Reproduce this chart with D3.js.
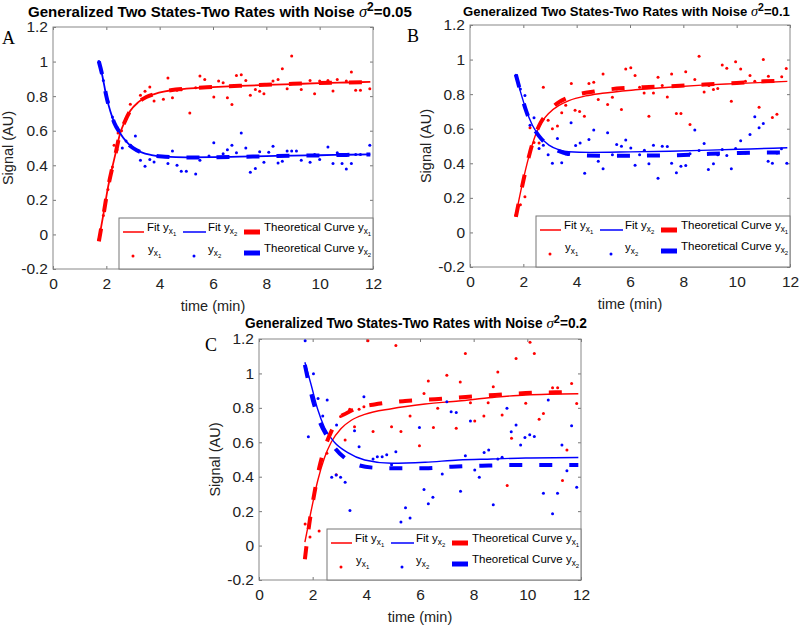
<!DOCTYPE html>
<html><head><meta charset="utf-8">
<script src="https://cdn.jsdelivr.net/npm/d3@7"></script>
<style>
body{margin:0;background:#fff;}
svg{display:block;font-family:"Liberation Sans",Arial,Helvetica,sans-serif;}
</style>
</head><body>
<svg id="chart" width="800" height="627"></svg>
<script>
// ---------------- DATA ----------------
const xTicks = [0, 2, 4, 6, 8, 10, 12];
const xTickLabels = ["0", "2", "4", "6", "8", "10", "12"];
const yTicks = [-0.2, 0, 0.2, 0.4, 0.6, 0.8, 1, 1.2];
const yTickLabels = ["-0.2", "0", "0.2", "0.4", "0.6", "0.8", "1", "1.2"];
const panelLetters = ["A", "B", "C"];
const noiseLevels = ["0.05", "0.1", "0.2"];
const titleText = "Generalized Two States-Two Rates with Noise ";
const xLabel = "time (min)";
const yLabel = "Signal (AU)";

// Panel A (sigma^2 = 0.05)
const redTheoryA = [[1.72,-0.04],[1.9,0.12],[2.05,0.26],[2.2,0.37],[2.35,0.47],[2.5,0.575],[2.7,0.655],[2.9,0.715],[3.2,0.765],[3.5,0.795],[3.8,0.812],[4.2,0.828],[4.6,0.838],[5,0.844],[6,0.853],[7,0.86],[8,0.866],[9,0.871],[10,0.876],[11,0.879],[11.9,0.882]];
const redFitA = [[1.72,-0.03],[1.9,0.125],[2.05,0.262],[2.2,0.372],[2.35,0.472],[2.5,0.575],[2.7,0.656],[2.9,0.715],[3.2,0.765],[3.5,0.795],[3.8,0.812],[4.2,0.827],[4.6,0.837],[5,0.843],[6,0.852],[7,0.859],[8,0.865],[9,0.87],[10,0.875],[11,0.879],[11.9,0.882]];
const blueTheoryA = [[1.72,1.0],[1.85,0.92],[2.0,0.80],[2.15,0.71],[2.3,0.645],[2.5,0.59],[2.75,0.535],[3.0,0.50],[3.3,0.475],[3.7,0.458],[4.2,0.45],[5,0.445],[6,0.446],[7,0.449],[8,0.452],[9,0.455],[10,0.457],[11,0.46],[11.9,0.462]];
const blueFitA = [[1.72,1.0],[1.85,0.918],[2.0,0.80],[2.15,0.712],[2.3,0.646],[2.5,0.59],[2.75,0.537],[3.0,0.502],[3.3,0.476],[3.7,0.459],[4.2,0.45],[5,0.446],[6,0.447],[7,0.45],[8,0.453],[9,0.456],[10,0.458],[11,0.461],[11.9,0.463]];
const redDotsA = [[1.72,-0.03],[1.89,0.11],[2.06,0.26],[2.23,0.39],[2.29,0.516],[2.40,0.49],[2.44,0.587],[2.57,0.6],[2.74,0.67],[2.9,0.753],[3.28,0.805],[3.45,0.828],[3.63,0.853],[3.79,0.772],[4.14,0.782],[4.31,0.905],[4.48,0.791],[4.65,0.834],[4.81,0.837],[5.13,0.703],[5.35,0.849],[5.51,0.917],[5.69,0.897],[6.03,0.795],[6.21,0.888],[6.38,0.878],[6.54,0.791],[6.71,0.751],[6.88,0.92],[7.06,0.924],[7.23,0.891],[7.4,0.805],[7.59,0.838],[7.75,0.828],[7.91,0.814],[8.25,0.888],[8.44,0.897],[8.6,0.959],[8.78,0.843],[8.95,1.032],[9.31,0.839],[9.64,0.891],[9.81,0.814],[10.0,0.888],[10.31,0.891],[10.5,0.83],[10.66,0.897],[11.0,0.888],[11.19,0.94],[11.35,0.834],[11.53,0.834],[11.88,0.843]];
const blueDotsA = [[1.72,1.0],[1.89,0.89],[2.06,0.77],[2.23,0.68],[2.40,0.62],[2.6,0.50],[2.74,0.54],[2.91,0.515],[3.09,0.57],[3.28,0.429],[3.45,0.394],[3.63,0.433],[3.79,0.419],[4.31,0.41],[4.48,0.483],[4.65,0.40],[4.81,0.365],[5.0,0.365],[5.35,0.35],[5.51,0.429],[5.85,0.454],[6.03,0.531],[6.38,0.467],[6.54,0.49],[6.71,0.516],[6.88,0.473],[7.06,0.587],[7.23,0.50],[7.4,0.359],[7.59,0.382],[7.75,0.479],[7.91,0.417],[8.09,0.475],[8.25,0.51],[8.44,0.413],[8.6,0.423],[8.78,0.483],[8.95,0.483],[9.13,0.483],[9.31,0.429],[9.64,0.417],[9.81,0.462],[10.0,0.433],[10.31,0.506],[10.5,0.41],[10.66,0.473],[10.84,0.41],[11.0,0.379],[11.19,0.41],[11.35,0.462],[11.53,0.462],[11.88,0.516]];

// Panel B (sigma^2 = 0.1)
const redTheoryB = [[1.72,0.09],[1.96,0.27],[2.21,0.44],[2.46,0.57],[2.65,0.635],[2.9,0.69],[3.1,0.725],[3.35,0.755],[3.6,0.775],[4.1,0.80],[4.65,0.815],[5.5,0.832],[6.5,0.84],[7.7,0.847],[8.8,0.856],[10,0.865],[11,0.874],[11.9,0.878]];
const redFitB = [[1.72,0.10],[1.96,0.28],[2.21,0.44],[2.46,0.565],[2.7,0.64],[2.96,0.69],[3.34,0.735],[3.71,0.763],[4.34,0.79],[4.96,0.805],[6.2,0.825],[7.46,0.84],[8.7,0.852],[9.96,0.861],[11.9,0.874]];
const blueTheoryB = [[1.72,0.913],[1.9,0.81],[2.09,0.71],[2.34,0.615],[2.59,0.557],[2.96,0.50],[3.34,0.47],[3.6,0.457],[4.4,0.445],[5.5,0.443],[6.8,0.445],[7.8,0.447],[9,0.455],[10.1,0.46],[11.9,0.463]];
const blueFitB = [[1.72,0.91],[1.9,0.81],[2.09,0.715],[2.34,0.62],[2.59,0.56],[2.96,0.505],[3.34,0.478],[3.7,0.467],[4.5,0.463],[6,0.466],[7.5,0.47],[9,0.476],[10.5,0.483],[11.9,0.49]];
const redDotsB = [[1.72,0.10],[1.89,0.16],[2.06,0.206],[2.25,0.605],[2.4,0.52],[2.59,0.518],[2.75,0.84],[2.93,0.649],[3.09,0.60],[3.28,0.615],[3.44,0.692],[3.59,0.736],[3.8,0.861],[3.94,0.707],[4.11,0.70],[4.29,0.672],[4.46,0.861],[4.64,0.869],[4.81,0.769],[4.99,0.917],[5.16,0.74],[5.34,0.782],[5.5,0.83],[5.68,0.711],[5.84,0.946],[6.03,0.952],[6.19,0.908],[6.36,0.84],[6.53,0.807],[6.71,0.672],[6.88,0.807],[7.05,0.898],[7.21,0.85],[7.4,0.784],[7.56,0.917],[7.74,0.688],[7.91,0.688],[8.09,0.929],[8.25,0.624],[8.43,0.884],[8.59,1.019],[8.78,0.813],[8.96,0.85],[9.13,0.827],[9.29,0.832],[9.46,0.969],[9.63,0.95],[9.8,0.759],[9.96,0.987],[10.15,0.946],[10.33,0.875],[10.5,0.908],[10.68,0.875],[10.84,0.724],[11.0,1.0],[11.19,0.904],[11.34,0.665],[11.51,0.684],[11.69,0.90],[11.86,0.948]];
const blueDotsB = [[1.72,0.91],[1.89,0.83],[2.06,0.792],[2.25,0.62],[2.4,0.663],[2.59,0.486],[2.75,0.505],[2.93,0.45],[3.09,0.40],[3.28,0.543],[3.44,0.403],[3.59,0.455],[3.79,0.634],[3.96,0.503],[4.13,0.518],[4.3,0.343],[4.46,0.538],[4.64,0.592],[4.81,0.412],[4.99,0.368],[5.16,0.576],[5.34,0.45],[5.5,0.509],[5.68,0.499],[5.84,0.534],[6.03,0.489],[6.19,0.389],[6.36,0.45],[6.54,0.476],[6.71,0.397],[6.88,0.505],[7.05,0.314],[7.21,0.499],[7.4,0.497],[7.56,0.40],[7.74,0.345],[7.91,0.383],[8.09,0.387],[8.25,0.455],[8.43,0.592],[8.59,0.474],[8.78,0.514],[8.94,0.364],[9.13,0.397],[9.29,0.45],[9.46,0.48],[9.63,0.445],[9.8,0.368],[9.96,0.486],[10.15,0.53],[10.33,0.46],[10.5,0.566],[10.68,0.669],[10.84,0.605],[11.0,0.63],[11.18,0.412],[11.34,0.40],[11.51,0.46],[11.68,0.484],[11.88,0.40]];

// Panel C (sigma^2 = 0.2)
const redTheoryC = [[1.71,-0.08],[1.875,0.127],[2.06,0.30],[2.25,0.455],[2.5,0.59],[2.7,0.665],[2.94,0.735],[3.25,0.768],[3.69,0.80],[4.3,0.82],[5.44,0.84],[6.56,0.85],[7.7,0.863],[8.8,0.875],[9.94,0.886],[11.06,0.89],[11.9,0.892]];
const redFitC = [[1.71,0.02],[1.94,0.20],[2.19,0.378],[2.44,0.51],[2.69,0.60],[3.06,0.68],[3.44,0.728],[3.94,0.762],[4.94,0.795],[6.19,0.822],[7.44,0.84],[8.7,0.86],[9.94,0.875],[11.9,0.882]];
const blueTheoryC = [[1.71,1.05],[1.875,0.93],[2.06,0.815],[2.25,0.725],[2.56,0.63],[2.81,0.57],[3.19,0.51],[3.69,0.468],[4.3,0.452],[4.94,0.449],[6.19,0.449],[7.19,0.458],[8.31,0.464],[9.44,0.468],[10.56,0.468],[11.9,0.468]];
const blueFitC = [[1.71,1.065],[1.94,0.936],[2.19,0.79],[2.44,0.686],[2.81,0.60],[3.31,0.54],[3.94,0.497],[4.94,0.478],[6.19,0.484],[7.44,0.497],[8.69,0.503],[9.94,0.509],[11.9,0.512]];
const redDotsC = [[1.72,0.125],[1.9,0.05],[2.24,0.085],[2.53,0.536],[2.88,0.412],[3.04,0.75],[3.21,0.613],[3.38,0.792],[3.56,0.69],[3.73,0.792],[3.91,0.807],[4.06,1.19],[4.25,0.663],[4.94,0.69],[5.1,1.162],[5.29,0.663],[5.63,0.753],[5.98,0.58],[6.15,0.884],[6.31,0.956],[6.5,0.686],[6.66,0.798],[7.0,0.99],[7.35,0.682],[7.5,0.95],[7.69,1.116],[7.88,0.83],[8.04,0.724],[8.38,0.753],[8.54,0.83],[8.73,0.923],[8.9,1.008],[9.06,0.759],[9.25,0.349],[9.41,0.624],[9.58,1.087],[9.94,0.827],[10.1,1.181],[10.26,1.116],[10.44,0.734],[10.6,0.767],[10.94,0.917],[11.13,0.917],[11.31,0.378],[11.475,0.555],[11.65,0.942],[11.84,0.825]];
const blueDotsC = [[1.72,1.19],[1.84,0.632],[2.03,0.998],[2.2,0.855],[2.375,0.753],[2.54,0.846],[2.71,0.397],[2.875,0.41],[2.89,0.70],[3.04,0.397],[3.21,0.368],[3.39,0.204],[3.56,0.667],[3.73,0.574],[3.91,0.865],[4.25,0.503],[4.41,0.516],[4.59,0.516],[4.76,0.528],[4.94,0.47],[5.1,0.545],[5.29,0.137],[5.46,0.22],[5.63,0.16],[5.98,0.686],[6.15,0.326],[6.31,0.243],[6.48,0.281],[6.83,0.416],[7.0,0.836],[7.16,0.778],[7.35,0.773],[7.51,0.316],[7.69,0.522],[7.88,0.724],[8.04,0.439],[8.21,0.397],[8.39,0.541],[8.56,0.555],[8.73,0.237],[8.9,0.503],[9.06,0.513],[9.24,0.798],[9.4,0.661],[9.58,0.70],[9.75,0.584],[9.91,0.628],[10.09,0.644],[10.26,0.634],[10.6,0.304],[10.78,0.846],[10.94,0.185],[11.125,0.304],[11.29,0.584],[11.475,0.435],[11.65,0.696],[11.84,0.339]];

// ---------------- LAYOUT ----------------
const RED = "#ff0000", BLUE = "#0000ff";
const layouts = [
  {box:{l:53,r:373,t:27,b:269}, title:{x:28,w:384,y:17}, letter:{x:2,y:44}, ylab:13},
  {box:{l:470,r:790,t:25,b:267}, title:{x:463,w:327,y:16}, letter:{x:407,y:42}, ylab:431},
  {box:{l:259,r:581,t:339,b:580}, title:{x:245,w:342,y:328}, letter:{x:205,y:351}, ylab:220}
];
const series = [
  {redTheory:redTheoryA, redFit:redFitA, blueTheory:blueTheoryA, blueFit:blueFitA, redDots:redDotsA, blueDots:blueDotsA},
  {redTheory:redTheoryB, redFit:redFitB, blueTheory:blueTheoryB, blueFit:blueFitB, redDots:redDotsB, blueDots:blueDotsB},
  {redTheory:redTheoryC, redFit:redFitC, blueTheory:blueTheoryC, blueFit:blueFitC, redDots:redDotsC, blueDots:blueDotsC}
];

const svg = d3.select("#chart");

function fitWidth(textSel, target) {
  const w = textSel.node().getBBox().width;
  const fs = parseFloat(textSel.attr("font-size"));
  textSel.attr("font-size", (fs * target / w).toFixed(2));
}

function subLabel(g, x, y, base, idx, fs) {
  const t = g.append("text").attr("x", x).attr("y", y).attr("font-size", fs).attr("fill", "#000");
  t.append("tspan").text(base);
  t.append("tspan").attr("font-size", "0.72em").attr("dy", "0.32em").text("x");
  t.append("tspan").attr("font-size", "0.52em").attr("dy", "0.38em").text(idx);
  return t;
}

layouts.forEach((L, i) => {
  const S = series[i];
  const b = L.box;
  const x = d3.scaleLinear().domain([0, 12]).range([b.l, b.r]);
  const y = d3.scaleLinear().domain([-0.2, 1.2]).range([b.b, b.t]);
  const g = svg.append("g");

  // title
  const tt = g.append("text").attr("x", L.title.x).attr("y", L.title.y)
    .attr("font-size", 13).attr("font-weight", "bold").attr("fill", "#000");
  tt.append("tspan").text(titleText);
  tt.append("tspan").attr("font-family", "'Liberation Serif','Times New Roman',serif")
    .attr("font-style", "italic").attr("font-weight", "normal").attr("font-size", "1.1em").text("σ");
  tt.append("tspan").attr("font-size", "0.8em").attr("dy", "-0.5em").text("2");
  tt.append("tspan").attr("dy", "0.4em").text("=" + noiseLevels[i]);
  fitWidth(tt, L.title.w);

  // panel letter
  g.append("text").attr("x", L.letter.x).attr("y", L.letter.y)
    .attr("font-family", "'Liberation Serif','Times New Roman',serif")
    .attr("font-size", 18).attr("fill", "#000").text(panelLetters[i]);

  // clip
  const cid = "clip" + i;
  svg.append("clipPath").attr("id", cid).append("rect")
    .attr("x", b.l).attr("y", b.t).attr("width", b.r - b.l).attr("height", b.b - b.t);

  // axes
  const ax = g.append("g").attr("transform", `translate(0,${b.b})`)
    .call(d3.axisBottom(x).tickValues(xTicks).tickFormat((d, k) => xTickLabels[k])
      .tickSizeInner(-3).tickSizeOuter(0).tickPadding(9));
  const ay = g.append("g").attr("transform", `translate(${b.l},0)`)
    .call(d3.axisLeft(y).tickValues(yTicks).tickFormat((d, k) => yTickLabels[k])
      .tickSizeInner(-3).tickSizeOuter(0).tickPadding(5));
  const axT = g.append("g").attr("transform", `translate(0,${b.t})`)
    .call(d3.axisTop(x).tickValues(xTicks).tickFormat("").tickSizeInner(-3).tickSizeOuter(0));
  const ayR = g.append("g").attr("transform", `translate(${b.r},0)`)
    .call(d3.axisRight(y).tickValues(yTicks).tickFormat("").tickSizeInner(-3).tickSizeOuter(0));
  [ax, ay, axT, ayR].forEach(a => {
    a.select(".domain").remove();
    a.selectAll("line").attr("stroke", "#777");
    a.selectAll("text").attr("font-size", 15.5).attr("fill", "#222")
      .attr("font-family", "'Liberation Sans',Arial,sans-serif");
  });
  g.append("rect").attr("x", b.l).attr("y", b.t).attr("width", b.r - b.l).attr("height", b.b - b.t)
    .attr("fill", "none").attr("stroke", "#888").attr("stroke-width", 1);

  // axis labels
  g.append("text").attr("x", (b.l + b.r) / 2).attr("y", b.b + 42).attr("text-anchor", "middle")
    .attr("font-size", 14.5).attr("fill", "#222").text(xLabel);
  g.append("text").attr("transform", `translate(${L.ylab},${(b.t + b.b) / 2}) rotate(-90)`)
    .attr("text-anchor", "middle").attr("font-size", 14.5).attr("fill", "#222").text(yLabel);

  // marks
  const pg = g.append("g").attr("clip-path", `url(#${cid})`);
  const line = d3.line().x(d => x(d[0])).y(d => y(d[1])).curve(d3.curveMonotoneX);
  const fitW = i === 0 ? 1.8 : 1.4;
  pg.append("path").attr("d", line(S.redFit)).attr("fill", "none").attr("stroke", RED).attr("stroke-width", fitW);
  pg.append("g").selectAll("circle").data(S.redDots).join("circle")
    .attr("cx", d => x(d[0])).attr("cy", d => y(d[1])).attr("r", 1.5).attr("fill", RED);
  pg.append("path").attr("d", line(S.blueFit)).attr("fill", "none").attr("stroke", BLUE).attr("stroke-width", fitW);
  pg.append("g").selectAll("circle").data(S.blueDots).join("circle")
    .attr("cx", d => x(d[0])).attr("cy", d => y(d[1])).attr("r", 1.5).attr("fill", BLUE);
  pg.append("path").attr("d", line(S.redTheory)).attr("fill", "none").attr("stroke", RED)
    .attr("stroke-width", 4).attr("stroke-dasharray", "13,17");
  pg.append("path").attr("d", line(S.blueTheory)).attr("fill", "none").attr("stroke", BLUE)
    .attr("stroke-width", 4).attr("stroke-dasharray", "13,17");

  // legend
  const lw = 254, lh = 51;
  const lg = g.append("g").attr("transform", `translate(${b.r - lw},${b.b - lh})`);
  lg.append("rect").attr("x", 0).attr("y", 0).attr("width", lw).attr("height", lh)
    .attr("fill", "#fff").attr("stroke", "#777").attr("stroke-width", 1);
  const fs = 11.5;
  lg.append("line").attr("x1", 4).attr("x2", 25).attr("y1", 14).attr("y2", 14).attr("stroke", RED).attr("stroke-width", 1.5);
  subLabel(lg, 28, 13, "Fit y", "1", fs);
  lg.append("line").attr("x1", 64).attr("x2", 87).attr("y1", 14).attr("y2", 14).attr("stroke", BLUE).attr("stroke-width", 1.5);
  subLabel(lg, 89, 13, "Fit y", "2", fs);
  lg.append("line").attr("x1", 125).attr("x2", 141).attr("y1", 14).attr("y2", 14).attr("stroke", RED).attr("stroke-width", 5);
  subLabel(lg, 145, 13, "Theoretical Curve y", "1", fs);
  lg.append("circle").attr("cx", 14).attr("cy", 38).attr("r", 1.5).attr("fill", RED);
  subLabel(lg, 29, 35, "y", "1", fs);
  lg.append("circle").attr("cx", 75).attr("cy", 38).attr("r", 1.5).attr("fill", BLUE);
  subLabel(lg, 89, 35, "y", "2", fs);
  lg.append("line").attr("x1", 125).attr("x2", 141).attr("y1", 35).attr("y2", 35).attr("stroke", BLUE).attr("stroke-width", 5);
  subLabel(lg, 145, 34, "Theoretical Curve y", "2", fs);
});
</script>
</body></html>
